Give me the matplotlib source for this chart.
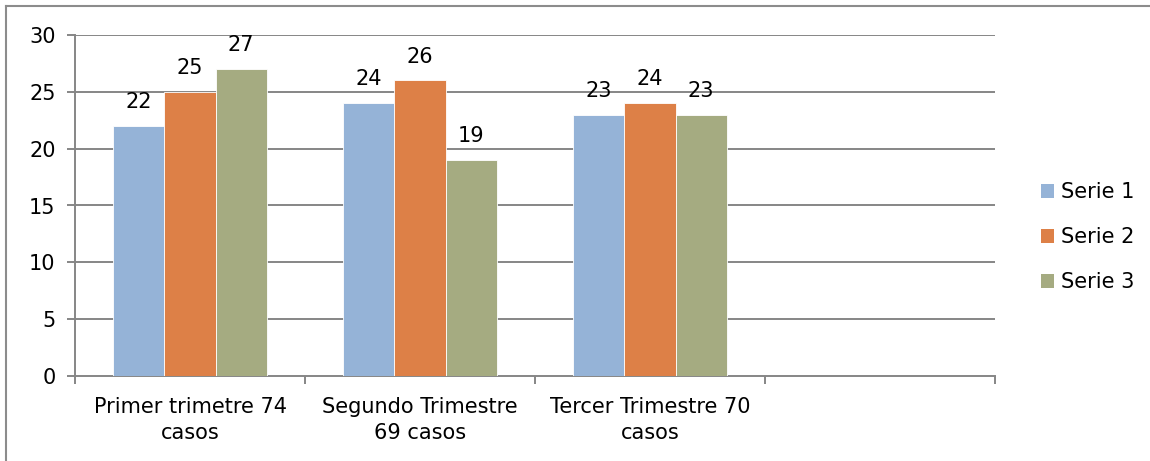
import matplotlib
matplotlib.use("Agg")
import matplotlib.pyplot as plt
from matplotlib.lines import Line2D
from matplotlib.patches import Patch
import numpy as np

categories = ["Primer trimetre 74\ncasos", "Segundo Trimestre\n69 casos", "Tercer Trimestre 70\ncasos", ""]
series_names = ["Serie 1", "Serie 2", "Serie 3"]
serie1 = [22, 24, 23]
serie2 = [25, 26, 24]
serie3 = [27, 19, 23]
colors = ["#95B3D7", "#DD8047", "#A5AB81"]
yticks = [0, 5, 10, 15, 20, 25, 30]

plt.rcParams['font.family'] = ['DejaVu Sans']
fig = plt.figure(figsize=(11.5, 4.61), dpi=100)
ax = fig.add_axes([75/1150, 1-376/461, 920/1150, 341/461])

grid_c = "#868686"
fs = 15
n = len(categories)
x = np.arange(n)
w = 0.222
data = [serie1, serie2, serie3]
for i, vals in enumerate(data):
    xs = np.arange(len(vals)) + (i - 1) * w
    ax.bar(xs, vals, width=w, color=colors[i], edgecolor="white", linewidth=0.6, zorder=3)
    for xi, v in zip(xs, vals):
        ax.annotate(str(v), (xi, v), xytext=(0, 10), textcoords="offset points",
                    ha="center", va="bottom", fontsize=fs, color="black", zorder=4)

ax.set_xlim(-0.5, n - 0.5)
ax.set_ylim(0, 30)
ax.set_yticks(yticks)
ax.set_yticklabels([str(t) for t in yticks], fontsize=fs)
for t in yticks[1:]:
    ax.axhline(t, color=grid_c, linewidth=1.4, zorder=1)

ax.set_xticks(np.arange(n + 1) - 0.5)
ax.set_xticklabels([])
ax.set_xticks(x, minor=True)
ax.set_xticklabels(categories, minor=True, fontsize=fs, linespacing=1.4)
ax.tick_params(axis="x", which="minor", length=0, pad=15)
ax.tick_params(axis="x", which="major", length=6, width=1.4, color=grid_c, direction="out")
ax.tick_params(axis="y", length=6, width=1.4, color=grid_c, direction="out", pad=8)

for s in ["top", "right"]:
    ax.spines[s].set_visible(False)
for s in ["left", "bottom"]:
    ax.spines[s].set_color(grid_c)
    ax.spines[s].set_linewidth(1.4)

handles = [Patch(facecolor=c, edgecolor="none") for c in colors]
fig.legend(handles, series_names, loc="center left", bbox_to_anchor=(1026/1150, 1-237/461),
           frameon=False, fontsize=fs, handlelength=0.65, handleheight=0.65,
           handletextpad=0.35, labelspacing=1.2, borderpad=0.2)

# outer border (left and top visible)
fig.add_artist(Line2D([6/1150, 6/1150], [0, 1-6/461], color="#8C8C8C", linewidth=1.5, transform=fig.transFigure))
fig.add_artist(Line2D([6/1150, 1], [1-6/461, 1-6/461], color="#8C8C8C", linewidth=1.5, transform=fig.transFigure))

fig.savefig("out.png", dpi=100)
